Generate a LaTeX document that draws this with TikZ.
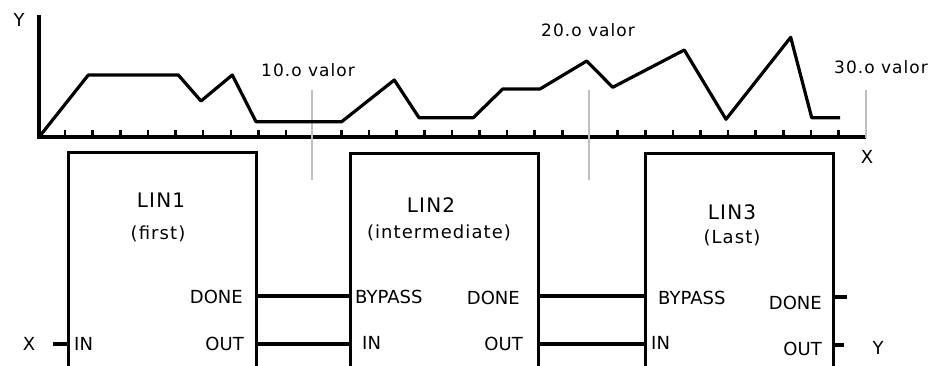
\documentclass[tikz,border=0pt]{standalone}
\usepackage{fontspec}
\setmainfont{DejaVu Sans}
\newfontfamily\spacedfont[LetterSpace=6]{DejaVu Sans}
\usepackage{tikz}

\begin{document}
\begin{tikzpicture}[x=1pt,y=-1pt,
  heavy/.style={line width=3.2pt},
  guide/.style={line width=2.4pt, draw=black!25},
  wire/.style={line width=3.2pt},
  block/.style={draw, line width=3.2pt, minimum width=188pt, minimum height=230pt,
    anchor=north west, inner sep=0pt},
  title/.style={font=\spacedfont\fontsize{20}{24}\selectfont, inner sep=0pt},
  subtitle/.style={font=\spacedfont\fontsize{18}{22}\selectfont, inner sep=0pt},
  port/.style={font=\fontsize{18}{22}\selectfont, inner sep=0pt},
  value/.style={font=\spacedfont\fontsize{17}{20}\selectfont, inner sep=0pt}]

\useasboundingbox (0,0) rectangle (940,366);
\clip (0,0) rectangle (940,366);

% Ejes del grafico
\coordinate (origin) at (39,137);
\coordinate (ytop) at (39,15);
\coordinate (xend) at (866,137);
\draw[heavy] (ytop) -- (origin) -- (xend);
\node[port] (ylabel) at (19,20) {Y};
\node[port] (xlabel) at (867,157) {X};

% Marcas del eje X
\foreach \i in {1,...,29} {
  \ifnum\i=10\else\ifnum\i=20\else
    \draw[line width=2.6pt] (37.4+27.63*\i,137) -- ++(0,-6.5);
  \fi\fi
}

% Lineas grises de cada valor
\draw[guide] (312,90) -- (312,180);
\draw[guide] (589,90) -- (589,180);
\draw[guide] (866,90) -- (866,138);
\node[value] (val10) at (308,70) {10.o valor};
\node[value] (val20) at (588,30) {20.o valor};
\node[value] (val30) at (881,67) {30.o valor};

% Curva de datos
\draw[heavy, line join=round] plot coordinates {(39.5,136.5) (88.3,75) (178.3,75)
  (201,101) (232.3,75) (256,121.7) (341.7,121.7) (394.3,80) (419,117.7)
  (473.3,117.7) (502.7,89) (540,89) (586.7,61) (612.7,87.3) (684.3,50)
  (726,119.3) (790.7,37.3) (811.7,117.7) (840,117.7)};

% Bloques
\node[block] (lin1) at (67,151) {};
\node[block] (lin2) at (349,152) {};
\node[block] (lin3) at (644,152) {};

% Nombres de los bloques
\node[title] (lin1name) at (161,200) {LIN1};
\node[subtitle] (lin1note) at (158,234) {(first)};
\node[title] (lin2name) at (431,205.5) {LIN2};
\node[subtitle] (lin2note) at (439,233) {(intermediate)};
\node[title] (lin3name) at (732,212) {LIN3};
\node[subtitle] (lin3note) at (732,238) {(Last)};

% Entradas y salidas
\node[port, anchor=west] (lin1in) at (74,344) {IN};
\node[port, anchor=east] (lin1done) at (243,297) {DONE};
\node[port, anchor=east] (lin1out) at (244,344) {OUT};
\node[port, anchor=west] (lin2bypass) at (355,297) {BYPASS};
\node[port, anchor=west] (lin2in) at (362,343) {IN};
\node[port, anchor=east] (lin2done) at (520,298) {DONE};
\node[port, anchor=east] (lin2out) at (523,344) {OUT};
\node[port, anchor=west] (lin3bypass) at (658,298) {BYPASS};
\node[port, anchor=west] (lin3in) at (651,343) {IN};
\node[port, anchor=east] (lin3done) at (822,303) {DONE};
\node[port, anchor=east] (lin3out) at (822,349) {OUT};

\node[port] (xin) at (29,344) {X};
\node[port] (yout) at (878,348) {Y};

% Conexiones
\coordinate (donerow) at (0,296);
\coordinate (outrow) at (0,344);
\coordinate (xstub) at (53,344);
\coordinate (donestub) at (847,297);
\coordinate (outstub) at (844,345);
\draw[wire] (xstub) -- (lin1.west |- outrow);
\draw[wire] (lin1.east |- donerow) -- (lin2.west |- donerow);
\draw[wire] (lin1.east |- outrow) -- (lin2.west |- outrow);
\draw[wire] (lin2.east |- donerow) -- (lin3.west |- donerow);
\draw[wire] (lin2.east |- outrow) -- (lin3.west |- outrow);
\draw[wire] (lin3.east |- donestub) -- (donestub);
\draw[wire] (lin3.east |- outstub) -- (outstub);

\end{tikzpicture}
\end{document}
